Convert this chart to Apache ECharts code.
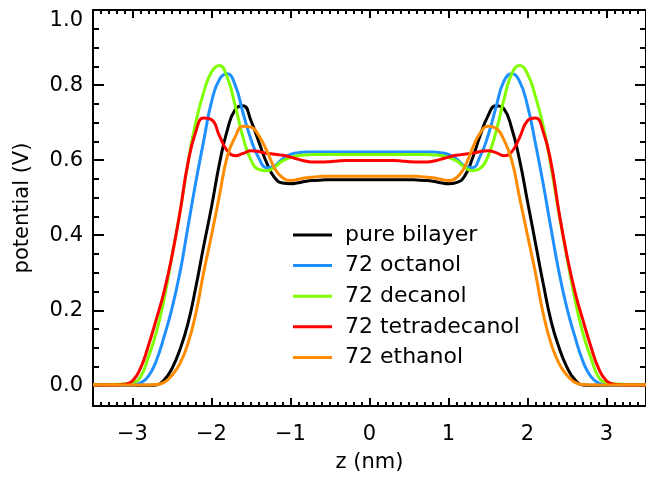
<!DOCTYPE html>
<html>
<head>
<meta charset="utf-8">
<script src="https://cdn.jsdelivr.net/npm/echarts/dist/echarts.min.js"></script>
<style>
  html, body { margin: 0; padding: 0; background: #fff; }
  #chart { width: 646px; height: 478px; }
</style>
</head>
<body>
<div id="chart"></div>
<script>
// Electrostatic potential profiles across the bilayer normal z (nm).
const zGrid = [
  -3.5, -3.4, -3.3, -3.2, -3.1, -3.0, -2.9, -2.8, -2.7, -2.6,
  -2.5, -2.4, -2.3, -2.2, -2.1, -2.0, -1.9, -1.8, -1.7, -1.6,
  -1.5, -1.4, -1.3, -1.2, -1.1, -1.0, -0.9, -0.8, -0.7, -0.6,
  -0.5, -0.4, -0.3, -0.2, -0.1, 0.0, 0.1, 0.2, 0.3, 0.4,
  0.5, 0.6, 0.7, 0.8, 0.9, 1.0, 1.1, 1.2, 1.3, 1.4,
  1.5, 1.6, 1.7, 1.8, 1.9, 2.0, 2.1, 2.2, 2.3, 2.4,
  2.5, 2.6, 2.7, 2.8, 2.9, 3.0, 3.1, 3.2, 3.3, 3.4, 3.5
];

const pureBilayer = [
  0, 0, 0, 0, 0, 0, 0, 0, 0.001, 0.014,
  0.045, 0.095, 0.163, 0.26, 0.37, 0.475, 0.59, 0.68, 0.735, 0.745,
  0.705, 0.648, 0.592, 0.553, 0.539, 0.537, 0.540, 0.544, 0.546, 0.547,
  0.548, 0.548, 0.548, 0.548, 0.548, 0.548, 0.548, 0.548, 0.548, 0.548,
  0.548, 0.547, 0.546, 0.544, 0.540, 0.537, 0.540, 0.556, 0.603, 0.665,
  0.718, 0.745, 0.737, 0.685, 0.60, 0.49, 0.38, 0.27, 0.17, 0.10,
  0.048, 0.015, 0.001, 0, 0, 0, 0, 0, 0, 0, 0
];

const octanol72 = [
  0.001, 0.001, 0.001, 0.001, 0.001, 0.001, 0.006, 0.024, 0.065, 0.13,
  0.205, 0.30, 0.42, 0.54, 0.65, 0.755, 0.815, 0.83, 0.80, 0.725,
  0.655, 0.605, 0.58, 0.585, 0.603, 0.615, 0.62, 0.622, 0.622, 0.622,
  0.622, 0.622, 0.622, 0.622, 0.622, 0.622, 0.622, 0.622, 0.622, 0.622,
  0.622, 0.622, 0.622, 0.622, 0.62, 0.615, 0.603, 0.585, 0.58, 0.61,
  0.665, 0.74, 0.81, 0.83, 0.81, 0.745, 0.645, 0.535, 0.415, 0.30,
  0.205, 0.13, 0.065, 0.024, 0.006, 0.001, 0.001, 0.001, 0.001, 0.001, 0.001
];

const decanol72 = [
  0.002, 0.002, 0.002, 0.003, 0.004, 0.007, 0.022, 0.075, 0.14, 0.23,
  0.345, 0.46, 0.59, 0.70, 0.78, 0.835, 0.852, 0.82, 0.745, 0.66,
  0.60, 0.575, 0.572, 0.582, 0.598, 0.607, 0.612, 0.614, 0.615, 0.615,
  0.615, 0.615, 0.615, 0.615, 0.615, 0.615, 0.615, 0.615, 0.615, 0.615,
  0.615, 0.615, 0.615, 0.614, 0.612, 0.607, 0.598, 0.582, 0.572, 0.578,
  0.61, 0.675, 0.76, 0.83, 0.852, 0.83, 0.77, 0.69, 0.58, 0.455,
  0.34, 0.23, 0.14, 0.075, 0.022, 0.007, 0.004, 0.003, 0.002, 0.002, 0.002
];

const tetradecanol72 = [
  0.001, 0.001, 0.001, 0.001, 0.003, 0.012, 0.045, 0.105, 0.175, 0.25,
  0.345, 0.46, 0.59, 0.675, 0.712, 0.708, 0.665, 0.625, 0.612, 0.618,
  0.625, 0.623, 0.618, 0.616, 0.613, 0.608, 0.602, 0.597, 0.595, 0.595,
  0.596, 0.598, 0.599, 0.599, 0.599, 0.599, 0.599, 0.599, 0.599, 0.598,
  0.596, 0.595, 0.595, 0.597, 0.602, 0.608, 0.613, 0.616, 0.618, 0.623,
  0.625, 0.62, 0.612, 0.622, 0.66, 0.705, 0.712, 0.675, 0.59, 0.46,
  0.345, 0.25, 0.175, 0.105, 0.045, 0.012, 0.003, 0.001, 0.001, 0.001, 0.001
];

const ethanol72 = [
  0.001, 0.001, 0.001, 0.001, 0.001, 0.001, 0.001, 0.001, 0.002, 0.008,
  0.027, 0.058, 0.11, 0.19, 0.30, 0.40, 0.505, 0.61, 0.662, 0.69,
  0.688, 0.665, 0.625, 0.578, 0.553, 0.546, 0.549, 0.553, 0.555, 0.557,
  0.557, 0.557, 0.557, 0.557, 0.557, 0.557, 0.557, 0.557, 0.557, 0.557,
  0.557, 0.557, 0.555, 0.553, 0.549, 0.546, 0.553, 0.58, 0.63, 0.672,
  0.69, 0.685, 0.655, 0.60, 0.50, 0.40, 0.30, 0.19, 0.11, 0.058,
  0.027, 0.008, 0.002, 0.001, 0.001, 0.001, 0.001, 0.001, 0.001, 0.001, 0.001
];

const seriesNames = ['pure bilayer', '72 octanol', '72 decanol', '72 tetradecanol', '72 ethanol'];
const seriesValues = [pureBilayer, octanol72, decanol72, tetradecanol72, ethanol72];
const seriesColors = ['#000000', '#1e90ff', '#7fff00', '#ff0000', '#ff8c00'];

const xTickValues = [-3, -2, -1, 0, 1, 2, 3];
const yTickValues = [0.0, 0.2, 0.4, 0.6, 0.8, 1.0];
const xMin = -3.5, xMax = 3.5;
const yMin = -0.055, yMax = 1.0;

// minor ticks: every 0.1 nm on z, every 0.05 V on the potential
const xMinorTicks = [];
for (let k = -34; k <= 34; k++) if (k % 10 !== 0) xMinorTicks.push(k / 10);
const yMinorTicks = [];
for (let k = 1; k < 20; k++) if (k % 4 !== 0) yMinorTicks.push(k / 20);

const FONT = 'DejaVu Sans';
const INK = '#000';

function xAxisDef(position, ticks, len, opts) {
  return Object.assign({
    type: 'value', position, min: xMin, max: xMax,
    axisLine: { show: false, onZero: false, lineStyle: { color: INK, width: 2 } },
    axisTick: { show: true, inside: true, length: len, customValues: ticks,
                lineStyle: { color: INK, width: 2 } },
    axisLabel: { show: false },
    splitLine: { show: false },
    minorTick: { show: false }
  }, opts || {});
}
function yAxisDef(position, ticks, len, opts) {
  return Object.assign({
    type: 'value', position, min: yMin, max: yMax,
    axisLine: { show: false, onZero: false, lineStyle: { color: INK, width: 2 } },
    axisTick: { show: true, inside: true, length: len, customValues: ticks,
                lineStyle: { color: INK, width: 2 } },
    axisLabel: { show: false },
    splitLine: { show: false },
    minorTick: { show: false }
  }, opts || {});
}

const chart = echarts.init(document.getElementById('chart'), null, { renderer: 'canvas' });

chart.setOption({
  animation: false,
  backgroundColor: '#fff',
  grid: { left: 93, right: -6, top: 10, bottom: 72 },
  xAxis: [
    xAxisDef('bottom', xTickValues, 8, {
      axisLine: { show: true, onZero: false, lineStyle: { color: INK, width: 2 } },
      axisLabel: {
        show: true, customValues: xTickValues, margin: 18,
        fontFamily: FONT, fontSize: 21, color: INK,
        formatter: v => (v < 0 ? '\u2212' + Math.abs(v) : String(v))
      },
      name: 'z (nm)', nameLocation: 'middle', nameGap: 46,
      nameTextStyle: { fontFamily: FONT, fontSize: 21, color: INK }
    }),
    xAxisDef('bottom', xMinorTicks, 4),
    xAxisDef('top', xTickValues, 8, {
      axisLine: { show: true, onZero: false, lineStyle: { color: INK, width: 2 } }
    }),
    xAxisDef('top', xMinorTicks, 4)
  ],
  yAxis: [
    yAxisDef('left', yTickValues, 11, {
      axisLine: { show: true, onZero: false, lineStyle: { color: INK, width: 2 } },
      axisLabel: {
        show: true, customValues: yTickValues, margin: 10,
        fontFamily: FONT, fontSize: 21, color: INK,
        verticalAlignMaxLabel: 'top',
        formatter: v => v.toFixed(1)
      },
      name: 'potential (V)', nameLocation: 'middle', nameGap: 60,
      nameTextStyle: { fontFamily: FONT, fontSize: 21, color: INK }
    }),
    yAxisDef('left', yMinorTicks, 6),
    yAxisDef('right', yTickValues, 11, {
      axisLine: { show: true, onZero: false, lineStyle: { color: INK, width: 2 } }
    }),
    yAxisDef('right', yMinorTicks, 6)
  ],
  legend: {
    orient: 'vertical', left: 293, top: 224, padding: 0,
    itemWidth: 39, itemHeight: 3, itemGap: 8.6, icon: 'rect',
    selectedMode: false,
    textStyle: { fontFamily: FONT, fontSize: 22, color: INK, lineHeight: 20, padding: [0, 0, 0, 8] },
    data: seriesNames
  },
  series: seriesNames.map((name, i) => ({
    name, type: 'line', xAxisIndex: 0, yAxisIndex: 0,
    data: zGrid.map((z, j) => [z, seriesValues[i][j]]),
    showSymbol: false, smooth: 0.5, silent: true,
    lineStyle: { color: seriesColors[i], width: 3 },
    itemStyle: { color: seriesColors[i] }
  }))
});
</script>
</body>
</html>
